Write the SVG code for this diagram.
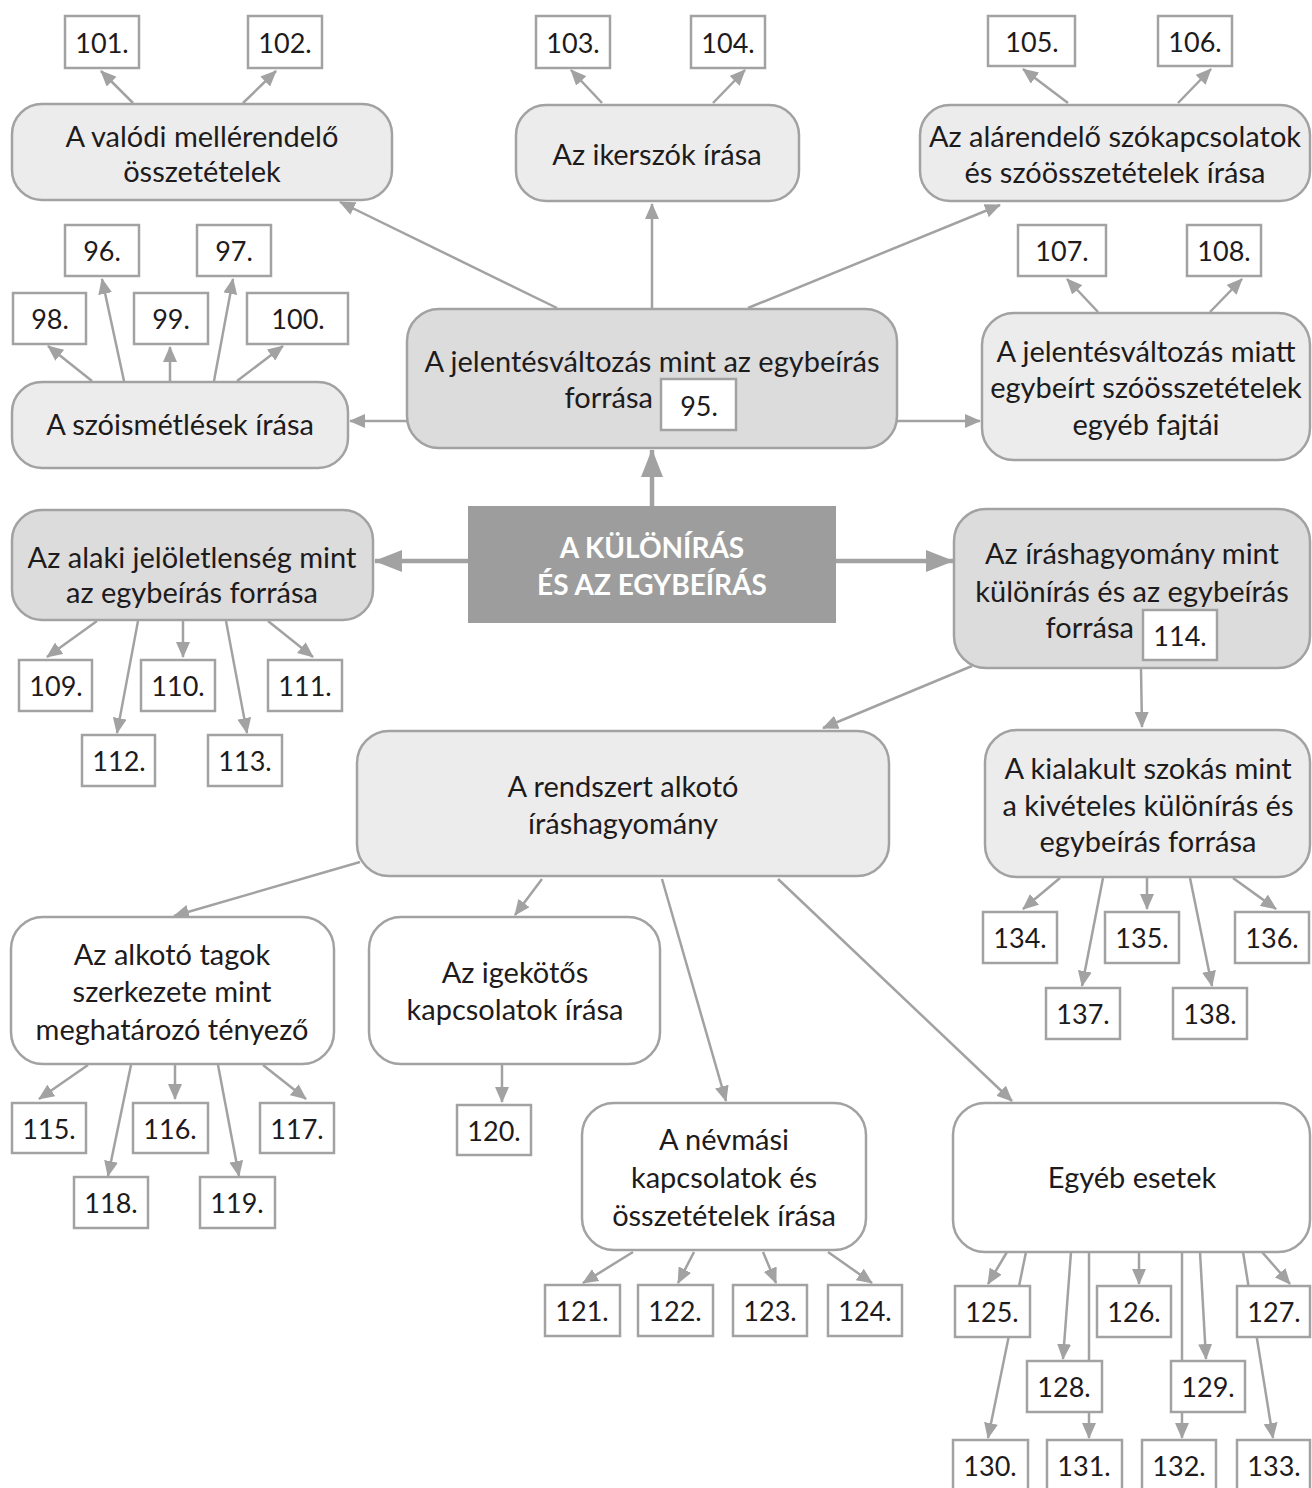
<svg xmlns="http://www.w3.org/2000/svg" width="1312" height="1488" viewBox="0 0 1312 1488">
<style>
.nl{fill:#ececec;stroke:#a2a2a2;stroke-width:2.5}
.nm{fill:#dcdcdc;stroke:#a2a2a2;stroke-width:2.5}
.nw{fill:#ffffff;stroke:#a2a2a2;stroke-width:2.5}
.bx{fill:#ffffff;stroke:#a2a2a2;stroke-width:2.5}
.ctr{fill:#9d9d9d}
text{font-family:Lato,"Liberation Sans",sans-serif;font-size:29px;fill:#1e1b1c;text-anchor:middle}
.num{font-size:27px}
.tb{font-weight:bold;fill:#ffffff;font-size:28px}
.c{stroke:#a2a2a2;stroke-width:2.5;fill:none;marker-end:url(#ah)}
.ct{stroke:#a2a2a2;stroke-width:4.5;fill:none;marker-end:url(#ahb)}
</style>
<defs>
<marker id="ah" markerUnits="userSpaceOnUse" viewBox="0 0 16 14" markerWidth="16" markerHeight="14" refX="15" refY="7" orient="auto"><path d="M0,0 L16,7 L0,14 z" fill="#a2a2a2"/></marker>
<marker id="ahb" markerUnits="userSpaceOnUse" viewBox="0 0 28 22" markerWidth="28" markerHeight="22" refX="27" refY="11" orient="auto"><path d="M0,0 L28,11 L0,22 z" fill="#a2a2a2"/></marker>
</defs>
<rect width="1312" height="1488" fill="#ffffff"/>
<g id="connectors">
<line class="c" x1="557" y1="308" x2="340" y2="202"/>
<line class="c" x1="652" y1="308" x2="652" y2="204"/>
<line class="c" x1="748" y1="308" x2="1000" y2="205"/>
<line class="c" x1="407" y1="421" x2="350" y2="421"/>
<line class="c" x1="897" y1="421" x2="980" y2="421"/>
<line class="c" x1="133" y1="103" x2="101" y2="71"/>
<line class="c" x1="243" y1="103" x2="276" y2="71"/>
<line class="c" x1="602" y1="103" x2="571" y2="70"/>
<line class="c" x1="713" y1="103" x2="745" y2="70"/>
<line class="c" x1="1068" y1="103" x2="1023" y2="69"/>
<line class="c" x1="1178" y1="103" x2="1211" y2="69"/>
<line class="c" x1="1098" y1="312" x2="1067" y2="279"/>
<line class="c" x1="1210" y1="312" x2="1242" y2="279"/>
<line class="c" x1="92" y1="381" x2="48" y2="346"/>
<line class="c" x1="124" y1="381" x2="102" y2="279"/>
<line class="c" x1="170" y1="381" x2="170" y2="347"/>
<line class="c" x1="214" y1="381" x2="233" y2="279"/>
<line class="c" x1="237" y1="381" x2="283" y2="346"/>
<line class="ct" x1="652" y1="506" x2="652" y2="450"/>
<line class="ct" x1="468" y1="561" x2="375" y2="561"/>
<line class="ct" x1="836" y1="561" x2="953" y2="561"/>
<line class="c" x1="97" y1="621" x2="47" y2="657"/>
<line class="c" x1="138" y1="621" x2="117" y2="733"/>
<line class="c" x1="183" y1="621" x2="183" y2="657"/>
<line class="c" x1="226" y1="621" x2="247" y2="733"/>
<line class="c" x1="268" y1="621" x2="313" y2="657"/>
<line class="c" x1="972" y1="666" x2="823" y2="728"/>
<line class="c" x1="1141" y1="669" x2="1142" y2="727"/>
<line class="c" x1="1060" y1="878" x2="1023" y2="909"/>
<line class="c" x1="1103" y1="878" x2="1082" y2="986"/>
<line class="c" x1="1147" y1="878" x2="1147" y2="909"/>
<line class="c" x1="1190" y1="878" x2="1212" y2="986"/>
<line class="c" x1="1233" y1="878" x2="1276" y2="909"/>
<line class="c" x1="360" y1="862" x2="174" y2="916"/>
<line class="c" x1="542" y1="879" x2="515" y2="915"/>
<line class="c" x1="662" y1="879" x2="726" y2="1101"/>
<line class="c" x1="778" y1="879" x2="1012" y2="1101"/>
<line class="c" x1="88" y1="1065" x2="39" y2="1099"/>
<line class="c" x1="131" y1="1065" x2="108" y2="1176"/>
<line class="c" x1="175" y1="1065" x2="175" y2="1099"/>
<line class="c" x1="218" y1="1065" x2="239" y2="1176"/>
<line class="c" x1="263" y1="1065" x2="306" y2="1099"/>
<line class="c" x1="502" y1="1065" x2="502" y2="1102"/>
<line class="c" x1="633" y1="1252" x2="583" y2="1283"/>
<line class="c" x1="694" y1="1252" x2="678" y2="1283"/>
<line class="c" x1="763" y1="1252" x2="776" y2="1283"/>
<line class="c" x1="828" y1="1252" x2="872" y2="1283"/>
<line class="c" x1="1007" y1="1252" x2="988" y2="1284"/>
<line class="c" x1="1026" y1="1252" x2="988" y2="1438"/>
<line class="c" x1="1071" y1="1252" x2="1063" y2="1359"/>
<line class="c" x1="1089" y1="1252" x2="1089" y2="1438"/>
<line class="c" x1="1139" y1="1252" x2="1139" y2="1284"/>
<line class="c" x1="1182" y1="1252" x2="1182" y2="1438"/>
<line class="c" x1="1200" y1="1252" x2="1206" y2="1359"/>
<line class="c" x1="1243" y1="1252" x2="1273" y2="1438"/>
<line class="c" x1="1262" y1="1252" x2="1290" y2="1284"/>
</g>
<g id="n-valodi"><rect class="nl" x="12" y="104" width="380" height="96" rx="30"/><text x="202" y="147">A valódi mellérendelő</text><text x="202" y="182">összetételek</text></g>
<g id="n-iker"><rect class="nl" x="516" y="105" width="283" height="96" rx="30"/><text x="657" y="165">Az ikerszók írása</text></g>
<g id="n-alar"><rect class="nl" x="920" y="105" width="390" height="96" rx="30"/><text x="1115" y="147">Az alárendelő szókapcsolatok</text><text x="1115" y="183">és szóösszetételek írása</text></g>
<g id="n-jelentes"><rect class="nm" x="407" y="309" width="490" height="139" rx="32"/><text x="652" y="372">A jelentésváltozás mint az egybeírás</text><text x="653" y="408" style="text-anchor:end">forrása</text></g>
<g id="n-szoism"><rect class="nl" x="12" y="382" width="336" height="86" rx="30"/><text x="180" y="435">A szóismétlések írása</text></g>
<g id="n-miatt"><rect class="nl" x="982" y="313" width="328" height="147" rx="32"/><text x="1146" y="362">A jelentésváltozás miatt</text><text x="1146" y="398">egybeírt szóösszetételek</text><text x="1146" y="435">egyéb fajtái</text></g>
<g id="n-center"><rect class="ctr" x="468" y="506" width="368" height="117"/><text class="tb" x="652" y="558">A KÜLÖNÍRÁS</text><text class="tb" x="652" y="595">ÉS AZ EGYBEÍRÁS</text></g>
<g id="n-alaki"><rect class="nm" x="12" y="510" width="361" height="110" rx="30"/><text x="192" y="568">Az alaki jelöletlenség mint</text><text x="192" y="603">az egybeírás forrása</text></g>
<g id="n-irash"><rect class="nm" x="954" y="509" width="356" height="159" rx="32"/><text x="1132" y="564">Az íráshagyomány mint</text><text x="1132" y="602">különírás és az egybeírás</text><text x="1134" y="638" style="text-anchor:end">forrása</text></g>
<g id="n-rendszert"><rect class="nl" x="357" y="731" width="532" height="145" rx="32"/><text x="623" y="797">A rendszert alkotó</text><text x="623" y="834">íráshagyomány</text></g>
<g id="n-kialakult"><rect class="nl" x="985" y="730" width="325" height="147" rx="32"/><text x="1148" y="779">A kialakult szokás mint</text><text x="1148" y="816">a kivételes különírás és</text><text x="1148" y="852">egybeírás forrása</text></g>
<g id="n-alkoto"><rect class="nw" x="11" y="917" width="323" height="147" rx="32"/><text x="172" y="965">Az alkotó tagok</text><text x="172" y="1002">szerkezete mint</text><text x="172" y="1040">meghatározó tényező</text></g>
<g id="n-igekotos"><rect class="nw" x="369" y="917" width="291" height="147" rx="32"/><text x="515" y="983">Az igekötős</text><text x="515" y="1020">kapcsolatok írása</text></g>
<g id="n-nevmasi"><rect class="nw" x="582" y="1103" width="284" height="147" rx="32"/><text x="724" y="1150">A névmási</text><text x="724" y="1188">kapcsolatok és</text><text x="724" y="1226">összetételek írása</text></g>
<g id="n-egyeb"><rect class="nw" x="953" y="1103" width="357" height="149" rx="32"/><text x="1132" y="1188">Egyéb esetek</text></g>
<g id="b95"><rect class="bx" x="661" y="379" width="75" height="51"/><text class="num" x="699" y="416">95.</text></g>
<g id="b96"><rect class="bx" x="65" y="225" width="74" height="51"/><text class="num" x="102" y="261">96.</text></g>
<g id="b97"><rect class="bx" x="197" y="225" width="74" height="51"/><text class="num" x="234" y="261">97.</text></g>
<g id="b98"><rect class="bx" x="13" y="293" width="73" height="51"/><text class="num" x="50" y="329">98.</text></g>
<g id="b99"><rect class="bx" x="134" y="293" width="74" height="51"/><text class="num" x="171" y="329">99.</text></g>
<g id="b100"><rect class="bx" x="247" y="293" width="101" height="51"/><text class="num" x="298" y="329">100.</text></g>
<g id="b101"><rect class="bx" x="65" y="16" width="74" height="52"/><text class="num" x="102" y="53">101.</text></g>
<g id="b102"><rect class="bx" x="248" y="16" width="74" height="52"/><text class="num" x="285" y="53">102.</text></g>
<g id="b103"><rect class="bx" x="536" y="16" width="74" height="52"/><text class="num" x="573" y="53">103.</text></g>
<g id="b104"><rect class="bx" x="691" y="16" width="74" height="52"/><text class="num" x="728" y="53">104.</text></g>
<g id="b105"><rect class="bx" x="988" y="16" width="87" height="50"/><text class="num" x="1032" y="52">105.</text></g>
<g id="b106"><rect class="bx" x="1158" y="16" width="74" height="50"/><text class="num" x="1195" y="52">106.</text></g>
<g id="b107"><rect class="bx" x="1018" y="225" width="88" height="51"/><text class="num" x="1062" y="261">107.</text></g>
<g id="b108"><rect class="bx" x="1187" y="225" width="74" height="51"/><text class="num" x="1224" y="261">108.</text></g>
<g id="b109"><rect class="bx" x="19" y="660" width="73" height="51"/><text class="num" x="56" y="696">109.</text></g>
<g id="b110"><rect class="bx" x="141" y="660" width="74" height="51"/><text class="num" x="178" y="696">110.</text></g>
<g id="b111"><rect class="bx" x="268" y="660" width="74" height="51"/><text class="num" x="305" y="696">111.</text></g>
<g id="b112"><rect class="bx" x="82" y="735" width="73" height="51"/><text class="num" x="119" y="771">112.</text></g>
<g id="b113"><rect class="bx" x="208" y="735" width="74" height="51"/><text class="num" x="245" y="771">113.</text></g>
<g id="b114"><rect class="bx" x="1143" y="610" width="74" height="50"/><text class="num" x="1180" y="646">114.</text></g>
<g id="b115"><rect class="bx" x="12" y="1103" width="74" height="50"/><text class="num" x="49" y="1139">115.</text></g>
<g id="b116"><rect class="bx" x="133" y="1103" width="75" height="50"/><text class="num" x="170" y="1139">116.</text></g>
<g id="b117"><rect class="bx" x="260" y="1103" width="74" height="50"/><text class="num" x="297" y="1139">117.</text></g>
<g id="b118"><rect class="bx" x="74" y="1177" width="74" height="51"/><text class="num" x="111" y="1213">118.</text></g>
<g id="b119"><rect class="bx" x="200" y="1177" width="75" height="51"/><text class="num" x="237" y="1213">119.</text></g>
<g id="b120"><rect class="bx" x="457" y="1105" width="74" height="50"/><text class="num" x="494" y="1141">120.</text></g>
<g id="b121"><rect class="bx" x="545" y="1285" width="75" height="51"/><text class="num" x="582" y="1321">121.</text></g>
<g id="b122"><rect class="bx" x="638" y="1285" width="75" height="51"/><text class="num" x="675" y="1321">122.</text></g>
<g id="b123"><rect class="bx" x="733" y="1285" width="74" height="51"/><text class="num" x="770" y="1321">123.</text></g>
<g id="b124"><rect class="bx" x="828" y="1285" width="74" height="51"/><text class="num" x="865" y="1321">124.</text></g>
<g id="b125"><rect class="bx" x="955" y="1286" width="75" height="51"/><text class="num" x="992" y="1322">125.</text></g>
<g id="b126"><rect class="bx" x="1097" y="1286" width="74" height="51"/><text class="num" x="1134" y="1322">126.</text></g>
<g id="b127"><rect class="bx" x="1237" y="1286" width="73" height="51"/><text class="num" x="1274" y="1322">127.</text></g>
<g id="b128"><rect class="bx" x="1027" y="1361" width="75" height="51"/><text class="num" x="1064" y="1397">128.</text></g>
<g id="b129"><rect class="bx" x="1171" y="1361" width="74" height="51"/><text class="num" x="1208" y="1397">129.</text></g>
<g id="b130"><rect class="bx" x="953" y="1440" width="75" height="51"/><text class="num" x="990" y="1476">130.</text></g>
<g id="b131"><rect class="bx" x="1047" y="1440" width="75" height="51"/><text class="num" x="1084" y="1476">131.</text></g>
<g id="b132"><rect class="bx" x="1142" y="1440" width="74" height="51"/><text class="num" x="1179" y="1476">132.</text></g>
<g id="b133"><rect class="bx" x="1237" y="1440" width="73" height="51"/><text class="num" x="1274" y="1476">133.</text></g>
<g id="b134"><rect class="bx" x="983" y="912" width="74" height="51"/><text class="num" x="1020" y="948">134.</text></g>
<g id="b135"><rect class="bx" x="1105" y="912" width="74" height="51"/><text class="num" x="1142" y="948">135.</text></g>
<g id="b136"><rect class="bx" x="1235" y="912" width="74" height="51"/><text class="num" x="1272" y="948">136.</text></g>
<g id="b137"><rect class="bx" x="1046" y="988" width="74" height="51"/><text class="num" x="1083" y="1024">137.</text></g>
<g id="b138"><rect class="bx" x="1173" y="988" width="74" height="51"/><text class="num" x="1210" y="1024">138.</text></g>
</svg>
